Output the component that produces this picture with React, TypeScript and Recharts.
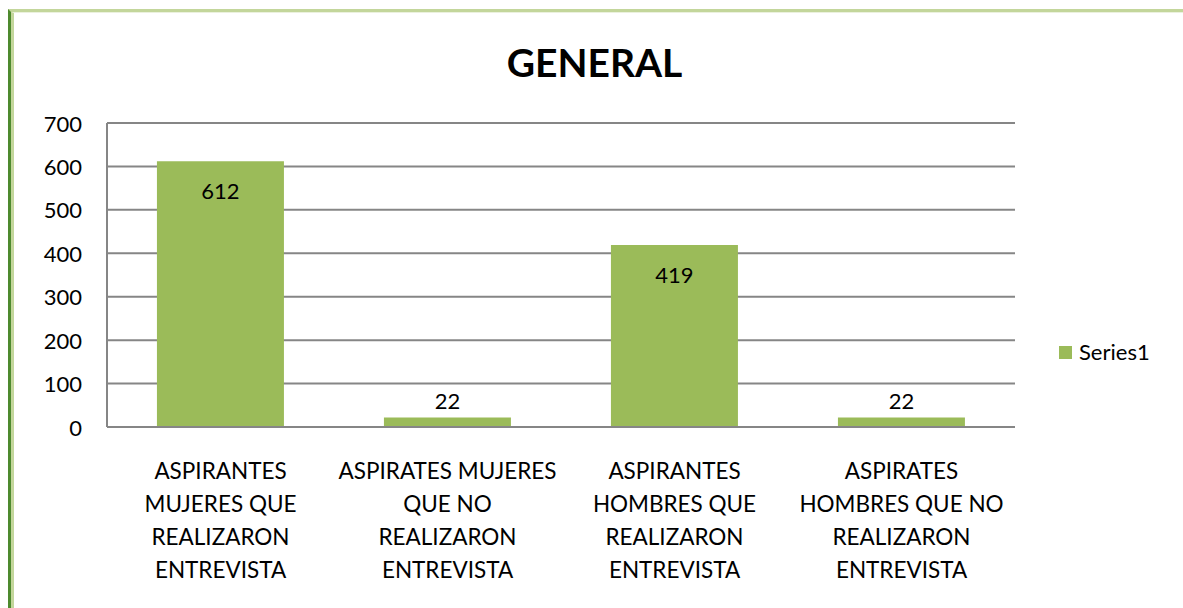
import React from 'react';
import { BarChart, Bar, XAxis, YAxis, CartesianGrid, LabelList } from 'recharts';

const categories = [
  'ASPIRANTES\nMUJERES QUE\nREALIZARON\nENTREVISTA',
  'ASPIRATES MUJERES\nQUE NO\nREALIZARON\nENTREVISTA',
  'ASPIRANTES\nHOMBRES QUE\nREALIZARON\nENTREVISTA',
  'ASPIRATES\nHOMBRES QUE NO\nREALIZARON\nENTREVISTA',
];
const series1 = [612, 22, 419, 22];
const yTicks = [0, 100, 200, 300, 400, 500, 600, 700];
const title = 'GENERAL';
const seriesName = 'Series1';

const data = categories.map((c, i) => ({ name: c, Series1: series1[i] }));

const FONT = 'Lato, "Open Sans", sans-serif';
const GREEN = '#9BBB59';
const GRID = '#868686';

const XTick = (props: any) => {
  const { x, y, payload } = props;
  const lines = String(payload.value).split('\n');
  return (
    <g transform={`translate(${x},${y})`}>
      {lines.map((l: string, i: number) => (
        <text key={i} x={0} y={35 + i * 33} textAnchor="middle" dominantBaseline="central"
          fontFamily={FONT} fontSize={22.5} fill="#000">{l}</text>
      ))}
    </g>
  );
};

const YTick = (props: any) => {
  const { x, y, payload } = props;
  return (
    <text x={x} y={y} textAnchor="end" dominantBaseline="central" fontFamily={FONT} fontSize={22} fill="#000">
      {payload.value}
    </text>
  );
};

const BarLabel = (props: any) => {
  const { x, y, width, height, value } = props;
  const inside = height > 40;
  const cy = inside ? y + 29 : y - 17;
  return (
    <text x={x + width / 2} y={cy} textAnchor="middle" dominantBaseline="central" fontFamily={FONT} fontSize={22} fill="#000">
      {value}
    </text>
  );
};

export default function App() {
  return (
    <div style={{ position: 'absolute', left: 0, top: 0, width: 1183, height: 608, background: '#fff', overflow: 'hidden' }}>
      <div style={{ position: 'absolute', left: 8, top: 9, width: 1200, height: 620, borderLeft: '3px solid #4E8A2E', borderTop: '3px solid #C3D69B', boxSizing: 'border-box' }} />
      <div style={{ position: 'absolute', left: 11, top: 12, width: 1200, height: 620, borderLeft: '3px solid #C3D69B', borderTop: '1px solid #EBF1DE', boxSizing: 'border-box' }} />
      <div style={{ position: 'absolute', left: 0, top: 38, width: 1189, textAlign: 'center', fontFamily: FONT, fontWeight: 700, fontSize: 39, color: '#000', lineHeight: '48px' }}>
        {title}
      </div>
      <div style={{ position: 'absolute', left: 0, top: 0 }}>
        <BarChart width={1183} height={608} data={data} margin={{ top: 123, right: 168, bottom: 11, left: 47 }} barCategoryGap="22%">
          <CartesianGrid horizontal vertical={false} stroke={GRID} strokeWidth={2} />
          <XAxis dataKey="name" interval={0} height={170} tick={<XTick />} tickLine={false} axisLine={{ stroke: GRID, strokeWidth: 2 }} />
          <YAxis width={60} domain={[0, 700]} ticks={yTicks} tick={<YTick />} tickLine={false} tickSize={0} tickMargin={25} axisLine={{ stroke: GRID, strokeWidth: 2 }} />
          <Bar dataKey="Series1" name={seriesName} fill={GREEN} isAnimationActive={false}>
            <LabelList dataKey="Series1" content={<BarLabel />} />
          </Bar>
        </BarChart>
      </div>
      <div style={{ position: 'absolute', left: 1059, top: 337, display: 'flex', alignItems: 'center', fontFamily: FONT, fontSize: 22, color: '#000', lineHeight: '30px' }}>
        <span style={{ display: 'inline-block', width: 13, height: 13, background: GREEN, marginRight: 7 }} />
        <span>{seriesName}</span>
      </div>
    </div>
  );
}
